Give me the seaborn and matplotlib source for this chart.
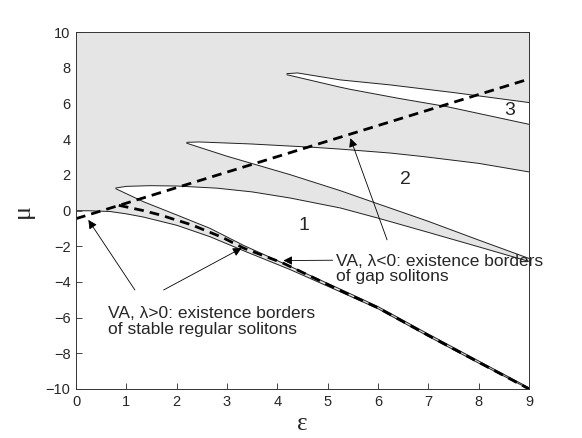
import matplotlib
matplotlib.use("Agg")
import matplotlib.pyplot as plt
import numpy as np
import pandas as pd
import seaborn as sns

sns.set_style("ticks", {"xtick.direction": "in", "ytick.direction": "in"})
plt.rcParams["font.family"] = ["Liberation Sans", "DejaVu Sans"]

# lower edge of the first band (border of the semi-infinite gap)
edge0_eps = [0, 0.3, 0.68, 1.0, 1.34, 2.0, 2.66, 3.33, 4.25, 5.25, 6.0, 7.0, 8.0, 9.0]
edge0_mu = [0, -0.01, -0.05, -0.18, -0.36, -0.82, -1.46, -2.25, -3.3, -4.55, -5.5, -7.05, -8.55, -10.0]

# gap 1
gap1_lo_eps = [0.79, 1.34, 2.0, 2.66, 3.33, 4.25, 5.25, 6.0, 7.0, 8.0, 9.0]
gap1_lo_mu = [1.23, 0.5, -0.24, -0.99, -1.95, -3.12, -4.4, -5.38, -6.92, -8.43, -9.93]
gap1_hi_eps = [0.79, 1.0, 1.47, 2.0, 2.8, 3.5, 4.25, 5.25, 6.0, 7.0, 8.0, 9.0]
gap1_hi_mu = [1.27, 1.36, 1.4, 1.38, 1.26, 1.05, 0.71, 0.15, -0.42, -1.22, -2.03, -2.85]

# gap 2
gap2_lo_eps = [2.2, 3.0, 4.25, 5.25, 6.0, 7.0, 8.0, 9.0]
gap2_lo_mu = [3.78, 3.05, 2.02, 1.12, 0.38, -0.6, -1.65, -2.68]
gap2_hi_eps = [2.2, 2.45, 3.46, 4.72, 5.25, 6.24, 6.9, 8.0, 9.0]
gap2_hi_mu = [3.83, 3.85, 3.74, 3.55, 3.45, 3.23, 3.03, 2.65, 2.17]

# gap 3
gap3_lo_eps = [4.19, 5.25, 5.45, 6.4, 7.37, 9.0]
gap3_lo_mu = [7.62, 6.92, 6.8, 6.3, 5.83, 4.84]
gap3_hi_eps = [4.19, 4.4, 5.25, 6.24, 7.5, 9.0]
gap3_hi_mu = [7.68, 7.72, 7.33, 7.05, 6.62, 6.06]

# VA predictions
va_neg_eps = [0, 9]
va_neg_mu = [-0.45, 7.38]
va_pos_eps = [0.85, 1.34, 1.67, 2.3, 2.9, 3.33, 4.12, 5.25, 6.0, 7.0, 8.0, 9.0]
va_pos_mu = [0.3, 0.0, -0.24, -0.8, -1.49, -2.1, -2.95, -4.48, -5.45, -7.0, -8.5, -10.0]

gap_labels = ["1", "2", "3"]
gap_label_eps = [4.52, 6.54, 8.61]
gap_label_mu = [-0.86, 1.76, 5.64]

GRAY = "#e5e5e5"

fig = plt.figure(figsize=(5.82, 4.38), dpi=100)
ax = fig.add_axes([0.1306, 0.1119, 0.7784, 0.8144])

# bands in gray, gaps in white
ax.fill_between(edge0_eps, edge0_mu, 10, color=GRAY, lw=0)
gaps = [
    (gap1_lo_eps, gap1_lo_mu, gap1_hi_eps, gap1_hi_mu),
    (gap2_lo_eps, gap2_lo_mu, gap2_hi_eps, gap2_hi_mu),
    (gap3_lo_eps, gap3_lo_mu, gap3_hi_eps, gap3_hi_mu),
]
for lo_e, lo_m, hi_e, hi_m in gaps:
    ax.fill(hi_e + lo_e[::-1], hi_m + lo_m[::-1], color="white", lw=0)

edges = [(edge0_eps, edge0_mu)]
for lo_e, lo_m, hi_e, hi_m in gaps:
    edges += [(lo_e, lo_m), (hi_e, hi_m), ([lo_e[0], hi_e[0]], [lo_m[0], hi_m[0]])]
for e, m in edges:
    sns.lineplot(x=e, y=m, sort=False, color="#222222", lw=0.7, ax=ax)

for e, m in [(va_neg_eps, va_neg_mu), (va_pos_eps, va_pos_mu)]:
    sns.lineplot(x=e, y=m, sort=False, color="black", lw=2.0, ax=ax,
                 linestyle=(0, (3.5, 2.2)))

for t, e, m in zip(gap_labels, gap_label_eps, gap_label_mu):
    ax.text(e, m, t, fontsize=14, ha="center", va="center")

arrow = dict(arrowstyle="-|>", color="black", lw=0.6, mutation_scale=13,
             shrinkA=0, shrinkB=0)
ax.text(5.17, -3.27, "VA, λ<0: existence borders\nof gap solitons",
        fontsize=12.5, ha="left", va="center", linespacing=1.05)
ax.annotate("", xy=(4.12, -2.8), xytext=(5.1, -2.78), arrowprops=arrow)
ax.annotate("", xy=(5.45, 4.06), xytext=(6.18, -1.64), arrowprops=arrow)

ax.text(0.64, -6.22, "VA, λ>0: existence borders\nof stable regular solitons",
        fontsize=12.5, ha="left", va="center", linespacing=1.05)
ax.annotate("", xy=(0.245, -0.52), xytext=(1.17, -4.45), arrowprops=arrow)
ax.annotate("", xy=(3.29, -2.1), xytext=(1.74, -4.45), arrowprops=arrow)

ax.set_xlim(0, 9)
ax.set_ylim(-10, 10)
ax.set_xticks(range(0, 10))
ax.set_yticks(range(-10, 11, 2))
ax.set_yticklabels([str(v).replace("-", "\u2212") for v in range(-10, 11, 2)])
ax.tick_params(axis="both", which="both", direction="in", length=4, width=0.6,
               labelsize=10.5, top=True, right=True, pad=4)
for s in ax.spines.values():
    s.set_linewidth(0.7)
    s.set_color("#333333")

ax.set_xlabel("ε", fontsize=18, family=["Liberation Serif", "DejaVu Serif"])
ax.set_ylabel("μ", fontsize=19, family=["Liberation Serif", "DejaVu Serif"])
ax.xaxis.set_label_coords(0.5, -0.098)
ax.xaxis.label.set_va("center")
ax.yaxis.set_label_coords(-0.118, 0.5)
ax.yaxis.label.set_va("center")
ax.yaxis.label.set_ha("center")

fig.savefig("out.png", dpi=100)
